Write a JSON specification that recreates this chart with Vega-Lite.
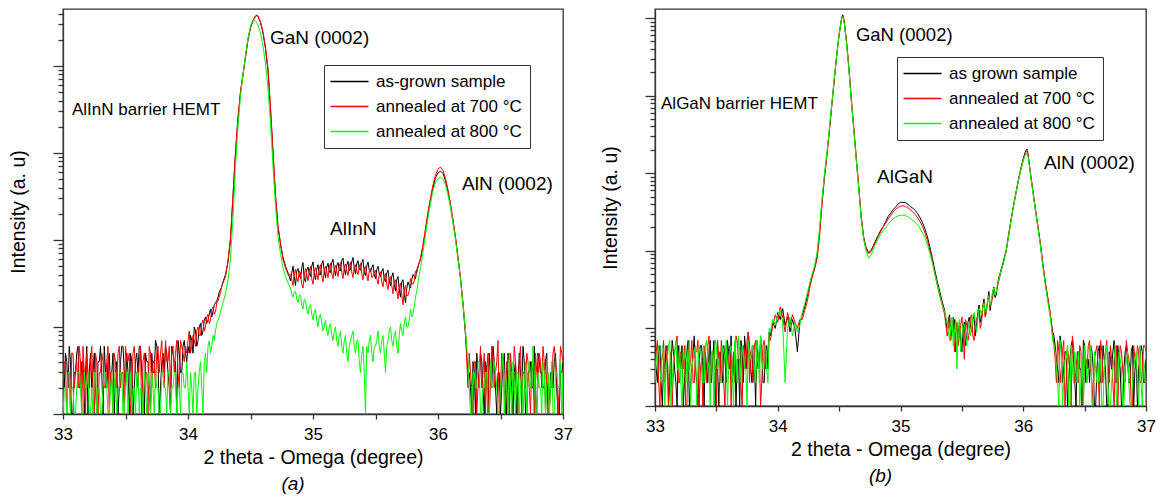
{
"$schema":"https://vega.github.io/schema/vega-lite/v6.json",
"background":"white",
"padding":{"left":7,"top":8,"right":2,"bottom":2},
"config":{"font":"Liberation Sans","view":{"stroke":"#333333","strokeWidth":1.3},
"axis":{"grid":false,"domainColor":"#333333","tickColor":"#333333","labelColor":"#000000","titleColor":"#000000","titleFontWeight":"normal","titleFontSize":19.5,"labelFontSize":17,"domainWidth":1.3,"tickWidth":1.3},
"legend":{"labelFontSize":17,"labelColor":"#000000"}},
"datasets":{
"a":[
{"x":33.00,"k":3,"r":2,"g":1},{"x":33.02,"k":5,"r":4,"g":2},{"x":33.04,"k":2,"r":3,"g":3},{"x":33.06,"k":4,"r":1,"g":1},{"x":33.08,"k":1,"r":5,"g":2},
{"x":33.10,"k":3,"r":3,"g":1},{"x":33.12,"k":6,"r":2,"g":3},{"x":33.14,"k":2,"r":4,"g":2},{"x":33.16,"k":4,"r":6,"g":1},{"x":33.18,"k":3,"r":1,"g":2},
{"x":33.20,"k":1,"r":3,"g":3},{"x":33.22,"k":5,"r":4,"g":1},{"x":33.24,"k":3,"r":2,"g":1},{"x":33.26,"k":2,"r":5,"g":3},{"x":33.28,"k":4,"r":1,"g":2},
{"x":33.30,"k":6,"r":3,"g":1},{"x":33.32,"k":1,"r":4,"g":2},{"x":33.34,"k":3,"r":2,"g":3},{"x":33.36,"k":4,"r":6,"g":1},{"x":33.38,"k":2,"r":3,"g":2},
{"x":33.40,"k":5,"r":1,"g":1},{"x":33.42,"k":3,"r":4,"g":3},{"x":33.44,"k":1,"r":5,"g":2},{"x":33.46,"k":4,"r":2,"g":3},{"x":33.48,"k":6,"r":3,"g":1},
{"x":33.50,"k":2,"r":6,"g":2},{"x":33.52,"k":3,"r":4,"g":1},{"x":33.54,"k":5,"r":1,"g":3},{"x":33.56,"k":1,"r":5,"g":2},{"x":33.58,"k":4,"r":3,"g":1},
{"x":33.60,"k":3,"r":2,"g":3},{"x":33.62,"k":6,"r":6,"g":2},{"x":33.64,"k":2,"r":4,"g":1},{"x":33.66,"k":5,"r":3,"g":2},{"x":33.68,"k":4,"r":1,"g":3},
{"x":33.70,"k":1,"r":5,"g":1},{"x":33.72,"k":3,"r":4,"g":2},{"x":33.74,"k":7,"r":2,"g":3},{"x":33.76,"k":4,"r":6,"g":2},{"x":33.78,"k":2,"r":5,"g":1},
{"x":33.80,"k":5,"r":3,"g":3},{"x":33.82,"k":6,"r":7,"g":2},{"x":33.84,"k":3,"r":4,"g":3},{"x":33.86,"k":1,"r":2,"g":1},{"x":33.88,"k":5,"r":6,"g":2},
{"x":33.90,"k":4,"r":5,"g":3},{"x":33.92,"k":7,"r":3,"g":2},{"x":33.94,"k":3,"r":7,"g":1},{"x":33.96,"k":6,"r":5,"g":3},{"x":33.98,"k":5,"r":6,"g":2},
{"x":34.00,"k":6,"r":7,"g":2},{"x":34.02,"k":8,"r":5,"g":3},{"x":34.04,"k":5,"r":8,"g":1},{"x":34.06,"k":9,"r":6,"g":3},{"x":34.08,"k":7,"r":10,"g":2},
{"x":34.10,"k":11,"r":8,"g":4},{"x":34.12,"k":9,"r":12,"g":1},{"x":34.14,"k":13,"r":10,"g":5},{"x":34.16,"k":12,"r":14,"g":6},{"x":34.18,"k":16,"r":12,"g":5},
{"x":34.20,"k":15,"r":17,"g":8},{"x":34.22,"k":19,"r":15,"g":9},{"x":34.24,"k":22,"r":20,"g":12},{"x":34.26,"k":27,"r":25,"g":15},{"x":34.28,"k":33,"r":32,"g":19},
{"x":34.30,"k":40,"r":38,"g":24},{"x":34.32,"k":56,"r":58,"g":35},{"x":34.34,"k":100,"r":105,"g":60},{"x":34.36,"k":316,"r":330,"g":180},{"x":34.38,"k":1000,"r":1050,"g":700},
{"x":34.40,"k":2500,"r":2600,"g":2000},{"x":34.42,"k":5000,"r":5100,"g":4500},{"x":34.44,"k":7900,"r":8100,"g":8000},{"x":34.46,"k":12600,"r":12900,"g":13500},{"x":34.48,"k":20000,"r":20500,"g":21000},
{"x":34.50,"k":27500,"r":28000,"g":29000},{"x":34.52,"k":33100,"r":33500,"g":33800},{"x":34.54,"k":37200,"r":37800,"g":33000},{"x":34.55,"k":38000,"r":38500,"g":31500},{"x":34.56,"k":37200,"r":37600,"g":29500},
{"x":34.58,"k":31600,"r":32000,"g":24000},{"x":34.60,"k":24000,"r":24500,"g":17000},{"x":34.62,"k":15800,"r":16200,"g":10500},{"x":34.64,"k":8900,"r":9200,"g":5500},{"x":34.66,"k":3160,"r":3300,"g":2200},
{"x":34.68,"k":1000,"r":1050,"g":700},{"x":34.70,"k":316,"r":330,"g":250},{"x":34.72,"k":141,"r":145,"g":110},{"x":34.74,"k":89,"r":92,"g":70},{"x":34.76,"k":63,"r":60,"g":48},
{"x":34.78,"k":50,"r":48,"g":38},{"x":34.80,"k":42,"r":40,"g":32},
{"x":34.82,"k":34,"r":40,"g":28},{"x":34.84,"k":50,"r":30,"g":22},{"x":34.86,"k":30,"r":46,"g":26},{"x":34.88,"k":47,"r":33,"g":19},{"x":34.90,"k":36,"r":42,"g":23},
{"x":34.92,"k":55,"r":28,"g":16},{"x":34.94,"k":33,"r":47,"g":20},{"x":34.96,"k":49,"r":34,"g":14},{"x":34.98,"k":38,"r":50,"g":18},{"x":35.00,"k":56,"r":31,"g":12},
{"x":35.02,"k":35,"r":48,"g":16},{"x":35.04,"k":52,"r":35,"g":10},{"x":35.06,"k":40,"r":52,"g":14},{"x":35.08,"k":58,"r":33,"g":9},{"x":35.10,"k":37,"r":50,"g":12},
{"x":35.12,"k":54,"r":37,"g":8},{"x":35.14,"k":42,"r":54,"g":11},{"x":35.16,"k":60,"r":36,"g":7},{"x":35.18,"k":39,"r":51,"g":10},{"x":35.20,"k":55,"r":38,"g":6},
{"x":35.22,"k":44,"r":55,"g":9},{"x":35.24,"k":62,"r":36,"g":5},{"x":35.26,"k":40,"r":53,"g":8},{"x":35.28,"k":57,"r":39,"g":4},{"x":35.30,"k":46,"r":56,"g":7},
{"x":35.32,"k":63,"r":37,"g":9},{"x":35.34,"k":41,"r":52,"g":5},{"x":35.36,"k":58,"r":40,"g":7},{"x":35.38,"k":45,"r":54,"g":3},{"x":35.40,"k":60,"r":35,"g":6},
{"x":35.42,"k":39,"r":50,"g":1},{"x":35.44,"k":56,"r":34,"g":5},{"x":35.46,"k":43,"r":47,"g":8},{"x":35.48,"k":52,"r":38,"g":4},{"x":35.50,"k":36,"r":45,"g":6},
{"x":35.52,"k":50,"r":31,"g":9},{"x":35.54,"k":38,"r":43,"g":5},{"x":35.56,"k":47,"r":29,"g":8},{"x":35.58,"k":33,"r":41,"g":3},{"x":35.60,"k":45,"r":27,"g":7},
{"x":35.62,"k":30,"r":38,"g":10},{"x":35.64,"k":42,"r":24,"g":6},{"x":35.66,"k":26,"r":35,"g":9},{"x":35.68,"k":38,"r":21,"g":5},{"x":35.70,"k":22,"r":32,"g":11},
{"x":35.72,"k":35,"r":18,"g":8},{"x":35.74,"k":19,"r":30,"g":13},{"x":35.76,"k":33,"r":23,"g":10},{"x":35.78,"k":28,"r":36,"g":16},{"x":35.80,"k":40,"r":31,"g":14},
{"x":35.82,"k":36,"r":44,"g":22},{"x":35.84,"k":50,"r":48,"g":32},
{"x":35.86,"k":60,"r":62,"g":48},{"x":35.88,"k":85,"r":88,"g":72},{"x":35.90,"k":130,"r":135,"g":115},{"x":35.92,"k":200,"r":210,"g":180},{"x":35.94,"k":290,"r":305,"g":265},
{"x":35.96,"k":400,"r":430,"g":370},{"x":35.98,"k":520,"r":560,"g":460},{"x":36.00,"k":590,"r":650,"g":510},{"x":36.02,"k":620,"r":690,"g":525},{"x":36.04,"k":580,"r":630,"g":500},
{"x":36.06,"k":480,"r":510,"g":430},{"x":36.08,"k":360,"r":375,"g":330},{"x":36.10,"k":250,"r":260,"g":235},{"x":36.12,"k":165,"r":170,"g":155},{"x":36.14,"k":105,"r":108,"g":100},
{"x":36.16,"k":62,"r":64,"g":60},{"x":36.18,"k":36,"r":37,"g":35},{"x":36.20,"k":18,"r":19,"g":18},{"x":36.22,"k":8,"r":9,"g":9},{"x":36.24,"k":3,"r":2,"g":4},
{"x":36.26,"k":2,"r":3,"g":1},{"x":36.28,"k":4,"r":1,"g":3},{"x":36.30,"k":1,"r":4,"g":2},{"x":36.32,"k":3,"r":2,"g":4},{"x":36.34,"k":5,"r":6,"g":1},
{"x":36.36,"k":2,"r":3,"g":2},{"x":36.38,"k":4,"r":1,"g":3},{"x":36.40,"k":1,"r":5,"g":1},{"x":36.42,"k":3,"r":2,"g":4},{"x":36.44,"k":6,"r":4,"g":2},
{"x":36.46,"k":2,"r":3,"g":3},{"x":36.48,"k":3,"r":7,"g":1},{"x":36.50,"k":1,"r":2,"g":2},{"x":36.52,"k":4,"r":4,"g":5},{"x":36.54,"k":2,"r":1,"g":3},
{"x":36.56,"k":5,"r":3,"g":1},{"x":36.58,"k":3,"r":5,"g":2},{"x":36.60,"k":1,"r":2,"g":4},{"x":36.62,"k":4,"r":4,"g":1},{"x":36.64,"k":2,"r":1,"g":3},
{"x":36.66,"k":3,"r":6,"g":2},{"x":36.68,"k":6,"r":3,"g":1},{"x":36.70,"k":1,"r":2,"g":4},{"x":36.72,"k":3,"r":4,"g":3},{"x":36.74,"k":4,"r":1,"g":2},
{"x":36.76,"k":2,"r":3,"g":6},{"x":36.78,"k":1,"r":5,"g":1},{"x":36.80,"k":5,"r":2,"g":3},{"x":36.82,"k":3,"r":4,"g":2},{"x":36.84,"k":2,"r":6,"g":4},
{"x":36.86,"k":4,"r":1,"g":1},{"x":36.88,"k":1,"r":3,"g":3},{"x":36.90,"k":3,"r":2,"g":2},{"x":36.92,"k":2,"r":5,"g":1},{"x":36.94,"k":5,"r":4,"g":3},
{"x":36.96,"k":1,"r":1,"g":2},{"x":36.98,"k":3,"r":6,"g":4},{"x":37.00,"k":4,"r":4,"g":3},
{"x":33.01,"k":2,"r":4,"g":2},{"x":33.03,"k":4,"r":1,"g":1},{"x":33.05,"k":6,"r":3,"g":3},{"x":33.07,"k":1,"r":5,"g":2},{"x":33.09,"k":3,"r":2,"g":1},
{"x":33.11,"k":5,"r":4,"g":2},{"x":33.13,"k":2,"r":6,"g":3},{"x":33.15,"k":4,"r":1,"g":1},{"x":33.17,"k":1,"r":3,"g":3},{"x":33.19,"k":6,"r":5,"g":2},
{"x":33.21,"k":3,"r":2,"g":1},{"x":33.23,"k":2,"r":6,"g":2},{"x":33.25,"k":5,"r":1,"g":3},{"x":33.27,"k":1,"r":4,"g":1},{"x":33.29,"k":4,"r":3,"g":2},
{"x":33.31,"k":3,"r":5,"g":1},{"x":33.33,"k":6,"r":2,"g":3},{"x":33.35,"k":2,"r":4,"g":2},{"x":33.37,"k":5,"r":1,"g":1},{"x":33.39,"k":3,"r":3,"g":3},
{"x":33.41,"k":1,"r":5,"g":2},{"x":33.43,"k":4,"r":2,"g":1},{"x":33.45,"k":2,"r":6,"g":2},{"x":33.47,"k":6,"r":3,"g":3},{"x":33.49,"k":3,"r":1,"g":1},
{"x":33.51,"k":5,"r":4,"g":3},{"x":33.53,"k":1,"r":5,"g":2},{"x":33.55,"k":4,"r":2,"g":1},{"x":33.57,"k":2,"r":6,"g":2},{"x":33.59,"k":5,"r":3,"g":3},
{"x":33.61,"k":6,"r":4,"g":1},{"x":33.63,"k":3,"r":1,"g":2},{"x":33.65,"k":1,"r":5,"g":3},{"x":33.67,"k":4,"r":3,"g":1},{"x":33.69,"k":2,"r":6,"g":2},
{"x":33.71,"k":5,"r":2,"g":3},{"x":33.73,"k":3,"r":4,"g":1},{"x":33.75,"k":6,"r":5,"g":2},{"x":33.77,"k":1,"r":3,"g":1},{"x":33.79,"k":4,"r":7,"g":3},
{"x":33.81,"k":3,"r":2,"g":2},{"x":33.83,"k":5,"r":4,"g":1},{"x":33.85,"k":2,"r":6,"g":3},{"x":33.87,"k":6,"r":5,"g":2},{"x":33.89,"k":4,"r":3,"g":3},
{"x":33.91,"k":1,"r":7,"g":1},{"x":33.93,"k":5,"r":2,"g":2},{"x":33.95,"k":3,"r":6,"g":3},{"x":33.97,"k":7,"r":4,"g":2},{"x":33.99,"k":4,"r":5,"g":4},
{"x":34.01,"k":5,"r":9,"g":1},{"x":34.03,"k":7,"r":6,"g":2},{"x":34.05,"k":10,"r":7,"g":3},{"x":34.07,"k":6,"r":9,"g":1},{"x":34.09,"k":10,"r":8,"g":3},
{"x":34.11,"k":8,"r":11,"g":2},{"x":34.13,"k":12,"r":9,"g":4},{"x":34.15,"k":11,"r":13,"g":3},{"x":34.17,"k":14,"r":11,"g":7},{"x":34.19,"k":13,"r":16,"g":6},
{"x":34.21,"k":18,"r":14,"g":7},{"x":34.23,"k":20,"r":19,"g":11},{"x":34.25,"k":25,"r":22,"g":13},{"x":34.27,"k":29,"r":30,"g":17},
{"x":34.83,"k":42,"r":35,"g":24},{"x":34.85,"k":38,"r":41,"g":25},{"x":34.87,"k":44,"r":37,"g":21},{"x":34.89,"k":40,"r":44,"g":23},{"x":34.91,"k":48,"r":31,"g":18},
{"x":34.93,"k":36,"r":39,"g":21},{"x":34.95,"k":45,"r":40,"g":16},{"x":34.97,"k":41,"r":44,"g":17},{"x":34.99,"k":50,"r":36,"g":14},{"x":35.01,"k":42,"r":43,"g":15},
{"x":35.03,"k":46,"r":41,"g":12},{"x":35.05,"k":40,"r":47,"g":13},{"x":35.07,"k":53,"r":39,"g":11},{"x":35.09,"k":44,"r":45,"g":10},{"x":35.11,"k":49,"r":43,"g":9},
{"x":35.13,"k":43,"r":48,"g":10},{"x":35.15,"k":55,"r":41,"g":8},{"x":35.17,"k":46,"r":47,"g":9},{"x":35.19,"k":51,"r":44,"g":7},{"x":35.21,"k":45,"r":50,"g":8},
{"x":35.23,"k":58,"r":42,"g":6},{"x":35.25,"k":47,"r":49,"g":7},{"x":35.27,"k":52,"r":45,"g":5},{"x":35.29,"k":44,"r":50,"g":6},{"x":35.31,"k":56,"r":43,"g":8},
{"x":35.33,"k":48,"r":48,"g":6},{"x":35.35,"k":53,"r":44,"g":7},{"x":35.37,"k":46,"r":49,"g":4},{"x":35.39,"k":55,"r":41,"g":5},{"x":35.41,"k":42,"r":46,"g":3},
{"x":35.43,"k":50,"r":40,"g":6},{"x":35.45,"k":45,"r":44,"g":7},{"x":35.47,"k":48,"r":37,"g":5},{"x":35.49,"k":40,"r":43,"g":6},{"x":35.51,"k":46,"r":36,"g":7},
{"x":35.53,"k":41,"r":40,"g":6},{"x":35.55,"k":44,"r":33,"g":7},{"x":35.57,"k":36,"r":38,"g":5},{"x":35.59,"k":42,"r":31,"g":6},{"x":35.61,"k":34,"r":36,"g":9},
{"x":35.63,"k":38,"r":30,"g":7},{"x":35.65,"k":31,"r":33,"g":8},{"x":35.67,"k":35,"r":26,"g":6},{"x":35.69,"k":27,"r":29,"g":8},{"x":35.71,"k":33,"r":24,"g":9},
{"x":35.73,"k":24,"r":26,"g":11},{"x":35.75,"k":28,"r":23,"g":10},{"x":35.77,"k":30,"r":26,"g":12},{"x":35.79,"k":35,"r":32,"g":13},{"x":35.81,"k":38,"r":34,"g":17},
{"x":35.83,"k":45,"r":42,"g":26},{"x":35.85,"k":55,"r":55,"g":40},
{"x":36.25,"k":3,"r":5,"g":2},{"x":36.27,"k":1,"r":2,"g":1},{"x":36.29,"k":3,"r":4,"g":3},{"x":36.31,"k":5,"r":1,"g":2},{"x":36.33,"k":2,"r":3,"g":4},
{"x":36.35,"k":4,"r":2,"g":1},{"x":36.37,"k":1,"r":5,"g":2},{"x":36.39,"k":3,"r":3,"g":3},{"x":36.41,"k":5,"r":1,"g":1},{"x":36.43,"k":2,"r":6,"g":2},
{"x":36.45,"k":4,"r":2,"g":4},{"x":36.47,"k":1,"r":4,"g":2},{"x":36.49,"k":3,"r":1,"g":1},{"x":36.51,"k":2,"r":5,"g":3},{"x":36.53,"k":5,"r":2,"g":1},
{"x":36.55,"k":1,"r":4,"g":2},{"x":36.57,"k":4,"r":1,"g":5},{"x":36.59,"k":2,"r":3,"g":1},{"x":36.61,"k":3,"r":6,"g":2},{"x":36.63,"k":1,"r":2,"g":3},
{"x":36.65,"k":5,"r":4,"g":1},{"x":36.67,"k":2,"r":1,"g":3},{"x":36.69,"k":4,"r":3,"g":2},{"x":36.71,"k":1,"r":5,"g":1},{"x":36.73,"k":3,"r":2,"g":4},
{"x":36.75,"k":2,"r":4,"g":2},{"x":36.77,"k":6,"r":1,"g":3},{"x":36.79,"k":1,"r":3,"g":1},{"x":36.81,"k":4,"r":5,"g":2},{"x":36.83,"k":3,"r":2,"g":1},
{"x":36.85,"k":2,"r":4,"g":3},{"x":36.87,"k":5,"r":3,"g":2},{"x":36.89,"k":1,"r":1,"g":1},{"x":36.91,"k":3,"r":2,"g":4},{"x":36.93,"k":4,"r":6,"g":1},
{"x":36.95,"k":2,"r":3,"g":3},{"x":36.97,"k":1,"r":2,"g":2},{"x":36.99,"k":3,"r":5,"g":1}
],
"b":[
{"x":33.00,"k":4,"r":3,"g":2},{"x":33.02,"k":2,"r":7,"g":5},{"x":33.04,"k":6,"r":1,"g":3},{"x":33.06,"k":1,"r":4,"g":6},{"x":33.08,"k":3,"r":2,"g":1},
{"x":33.10,"k":5,"r":6,"g":4},{"x":33.12,"k":2,"r":3,"g":7},{"x":33.14,"k":7,"r":1,"g":2},{"x":33.16,"k":3,"r":5,"g":5},{"x":33.18,"k":1,"r":8,"g":3},
{"x":33.20,"k":4,"r":2,"g":6},{"x":33.22,"k":6,"r":4,"g":1},{"x":33.24,"k":2,"r":6,"g":4},{"x":33.26,"k":5,"r":1,"g":2},{"x":33.28,"k":1,"r":3,"g":7},
{"x":33.30,"k":3,"r":7,"g":3},{"x":33.32,"k":8,"r":2,"g":5},{"x":33.34,"k":2,"r":5,"g":1},{"x":33.36,"k":4,"r":1,"g":6},{"x":33.38,"k":6,"r":4,"g":4},
{"x":33.40,"k":1,"r":6,"g":2},{"x":33.42,"k":3,"r":2,"g":7},{"x":33.44,"k":5,"r":8,"g":3},{"x":33.46,"k":2,"r":3,"g":5},{"x":33.48,"k":7,"r":5,"g":1},
{"x":33.50,"k":4,"r":1,"g":6},{"x":33.52,"k":1,"r":4,"g":4},{"x":33.54,"k":3,"r":7,"g":2},{"x":33.56,"k":6,"r":2,"g":5},{"x":33.58,"k":2,"r":6,"g":7},
{"x":33.60,"k":5,"r":3,"g":3},{"x":33.62,"k":8,"r":1,"g":6},{"x":33.64,"k":3,"r":5,"g":1},{"x":33.66,"k":1,"r":8,"g":4},{"x":33.68,"k":4,"r":4,"g":8},
{"x":33.70,"k":7,"r":2,"g":2},{"x":33.72,"k":2,"r":6,"g":5},{"x":33.74,"k":5,"r":3,"g":3},{"x":33.76,"k":9,"r":9,"g":7},{"x":33.78,"k":3,"r":5,"g":4},
{"x":33.80,"k":6,"r":2,"g":6},{"x":33.82,"k":1,"r":7,"g":2},{"x":33.84,"k":4,"r":4,"g":5},{"x":33.86,"k":8,"r":1,"g":8},{"x":33.88,"k":2,"r":6,"g":3},
{"x":33.90,"k":5,"r":3,"g":6},{"x":33.92,"k":3,"r":5,"g":2},
{"x":33.94,"k":8,"r":7,"g":9},{"x":33.96,"k":12,"r":11,"g":13},{"x":33.98,"k":10,"r":15,"g":11},{"x":34.00,"k":16,"r":12,"g":15},{"x":34.02,"k":13,"r":19,"g":17},
{"x":34.04,"k":18,"r":14,"g":12},{"x":34.06,"k":11,"r":9,"g":2},{"x":34.08,"k":14,"r":16,"g":10},{"x":34.10,"k":9,"r":11,"g":14},{"x":34.12,"k":13,"r":15,"g":8},
{"x":34.14,"k":10,"r":12,"g":12},{"x":34.16,"k":5,"r":10,"g":9},{"x":34.18,"k":12,"r":13,"g":11},
{"x":34.20,"k":15,"r":13,"g":16},{"x":34.22,"k":19,"r":17,"g":21},{"x":34.24,"k":26,"r":22,"g":28},{"x":34.26,"k":36,"r":33,"g":38},{"x":34.28,"k":48,"r":45,"g":50},
{"x":34.30,"k":60,"r":58,"g":64},{"x":34.32,"k":85,"r":78,"g":95},{"x":34.34,"k":170,"r":150,"g":190},{"x":34.36,"k":420,"r":380,"g":460},{"x":34.38,"k":900,"r":850,"g":960},
{"x":34.40,"k":1700,"r":1650,"g":1800},{"x":34.42,"k":3500,"r":3400,"g":3700},{"x":34.44,"k":7500,"r":7300,"g":7800},{"x":34.46,"k":16000,"r":15500,"g":16500},{"x":34.48,"k":33000,"r":32000,"g":33000},
{"x":34.50,"k":62000,"r":60000,"g":61000},{"x":34.52,"k":100000,"r":97000,"g":97000},{"x":34.53,"k":110000,"r":106000,"g":104000},{"x":34.54,"k":95000,"r":93000,"g":90000},{"x":34.56,"k":50000,"r":50000,"g":47000},
{"x":34.58,"k":22000,"r":23000,"g":21000},{"x":34.60,"k":8500,"r":9000,"g":8200},{"x":34.62,"k":3600,"r":3800,"g":3500},{"x":34.64,"k":1500,"r":1600,"g":1450},{"x":34.66,"k":650,"r":680,"g":620},
{"x":34.68,"k":270,"r":280,"g":255},{"x":34.70,"k":150,"r":145,"g":140},{"x":34.72,"k":110,"r":105,"g":100},{"x":34.74,"k":95,"r":92,"g":80},{"x":34.76,"k":100,"r":98,"g":88},
{"x":34.78,"k":118,"r":115,"g":105},
{"x":34.80,"k":138,"r":132,"g":125},{"x":34.82,"k":160,"r":156,"g":145},{"x":34.84,"k":185,"r":178,"g":163},{"x":34.86,"k":205,"r":205,"g":182},{"x":34.88,"k":240,"r":228,"g":200},
{"x":34.90,"k":278,"r":258,"g":220},{"x":34.92,"k":305,"r":285,"g":240},{"x":34.94,"k":340,"r":315,"g":258},{"x":34.96,"k":365,"r":342,"g":272},{"x":34.98,"k":400,"r":362,"g":282},
{"x":35.00,"k":422,"r":375,"g":287},{"x":35.02,"k":420,"r":380,"g":288},{"x":35.04,"k":418,"r":372,"g":284},{"x":35.06,"k":398,"r":358,"g":275},{"x":35.08,"k":372,"r":338,"g":262},
{"x":35.10,"k":355,"r":318,"g":248},{"x":35.12,"k":330,"r":292,"g":232},{"x":35.14,"k":300,"r":266,"g":214},{"x":35.16,"k":265,"r":236,"g":192},{"x":35.18,"k":230,"r":205,"g":170},
{"x":35.20,"k":190,"r":170,"g":145},{"x":35.22,"k":150,"r":135,"g":118},{"x":35.24,"k":110,"r":100,"g":92},{"x":35.26,"k":80,"r":72,"g":70},{"x":35.28,"k":56,"r":50,"g":50},
{"x":35.30,"k":40,"r":36,"g":36},{"x":35.32,"k":30,"r":26,"g":27},{"x":35.34,"k":22,"r":20,"g":20},
{"x":35.36,"k":17,"r":15,"g":16},{"x":35.38,"k":10,"r":8,"g":12},{"x":35.40,"k":15,"r":13,"g":7},{"x":35.42,"k":9,"r":11,"g":14},{"x":35.44,"k":13,"r":5,"g":9},
{"x":35.46,"k":6,"r":12,"g":3},{"x":35.48,"k":11,"r":8,"g":13},{"x":35.50,"k":5,"r":14,"g":8},{"x":35.52,"k":12,"r":4,"g":11},{"x":35.54,"k":8,"r":11,"g":6},
{"x":35.56,"k":14,"r":9,"g":12},{"x":35.58,"k":9,"r":15,"g":10},{"x":35.60,"k":15,"r":7,"g":16},{"x":35.62,"k":11,"r":13,"g":9},{"x":35.64,"k":20,"r":17,"g":18},
{"x":35.66,"k":14,"r":12,"g":15},{"x":35.68,"k":24,"r":22,"g":21},{"x":35.70,"k":18,"r":16,"g":17},{"x":35.72,"k":30,"r":27,"g":26},{"x":35.74,"k":22,"r":21,"g":23},
{"x":35.76,"k":34,"r":32,"g":33},{"x":35.78,"k":27,"r":30,"g":29},{"x":35.80,"k":45,"r":40,"g":42},{"x":35.82,"k":58,"r":55,"g":56},{"x":35.84,"k":75,"r":72,"g":70},
{"x":35.86,"k":100,"r":95,"g":98},{"x":35.88,"k":160,"r":150,"g":155},{"x":35.90,"k":250,"r":240,"g":245},{"x":35.92,"k":380,"r":365,"g":370},{"x":35.94,"k":560,"r":540,"g":545},
{"x":35.96,"k":820,"r":790,"g":790},{"x":35.98,"k":1150,"r":1100,"g":1090},{"x":36.00,"k":1550,"r":1480,"g":1450},{"x":36.02,"k":1950,"r":1850,"g":1780},{"x":36.03,"k":2050,"r":1920,"g":1750},
{"x":36.04,"k":1700,"r":1720,"g":1600},{"x":36.06,"k":950,"r":980,"g":930},{"x":36.08,"k":560,"r":580,"g":545},{"x":36.10,"k":330,"r":345,"g":320},{"x":36.12,"k":200,"r":210,"g":195},
{"x":36.14,"k":120,"r":125,"g":115},{"x":36.16,"k":65,"r":70,"g":62},{"x":36.18,"k":38,"r":40,"g":36},{"x":36.20,"k":24,"r":25,"g":22},{"x":36.22,"k":15,"r":16,"g":14},
{"x":36.24,"k":9,"r":8,"g":7},
{"x":36.26,"k":6,"r":4,"g":5},{"x":36.28,"k":3,"r":7,"g":2},{"x":36.30,"k":8,"r":2,"g":7},{"x":36.32,"k":2,"r":5,"g":1},{"x":36.34,"k":5,"r":1,"g":4},
{"x":36.36,"k":1,"r":6,"g":6},{"x":36.38,"k":4,"r":3,"g":1},{"x":36.40,"k":7,"r":8,"g":3},{"x":36.42,"k":2,"r":2,"g":5},{"x":36.44,"k":5,"r":4,"g":2},
{"x":36.46,"k":3,"r":6,"g":1},{"x":36.48,"k":1,"r":1,"g":4},{"x":36.50,"k":6,"r":5,"g":6},{"x":36.52,"k":4,"r":3,"g":2},{"x":36.54,"k":2,"r":7,"g":3},
{"x":36.56,"k":5,"r":2,"g":1},{"x":36.58,"k":1,"r":4,"g":5},{"x":36.60,"k":3,"r":6,"g":2},{"x":36.62,"k":6,"r":1,"g":4},{"x":36.64,"k":2,"r":5,"g":1},
{"x":36.66,"k":4,"r":3,"g":3},{"x":36.68,"k":1,"r":7,"g":6},{"x":36.70,"k":5,"r":2,"g":1},{"x":36.72,"k":3,"r":4,"g":2},{"x":36.74,"k":7,"r":1,"g":4},
{"x":36.76,"k":2,"r":6,"g":1},{"x":36.78,"k":4,"r":3,"g":5},{"x":36.80,"k":1,"r":5,"g":3},{"x":36.82,"k":3,"r":2,"g":1},{"x":36.84,"k":6,"r":7,"g":4},
{"x":36.86,"k":2,"r":4,"g":2},{"x":36.88,"k":5,"r":1,"g":1},{"x":36.90,"k":1,"r":6,"g":3},{"x":36.92,"k":4,"r":3,"g":5},{"x":36.94,"k":3,"r":5,"g":1},
{"x":36.96,"k":6,"r":2,"g":2},{"x":36.98,"k":2,"r":6,"g":4},{"x":37.00,"k":4,"r":5,"g":1},
{"x":33.01,"k":3,"r":5,"g":4},{"x":33.03,"k":5,"r":2,"g":6},{"x":33.05,"k":2,"r":4,"g":2},{"x":33.07,"k":4,"r":7,"g":5},{"x":33.09,"k":6,"r":3,"g":3},
{"x":33.11,"k":1,"r":1,"g":6},{"x":33.13,"k":3,"r":5,"g":1},{"x":33.15,"k":5,"r":3,"g":4},{"x":33.17,"k":2,"r":6,"g":7},{"x":33.19,"k":6,"r":2,"g":3},
{"x":33.21,"k":3,"r":5,"g":2},{"x":33.23,"k":1,"r":3,"g":5},{"x":33.25,"k":4,"r":1,"g":6},{"x":33.27,"k":7,"r":6,"g":3},{"x":33.29,"k":2,"r":4,"g":1},
{"x":33.31,"k":5,"r":2,"g":4},{"x":33.33,"k":3,"r":5,"g":6},{"x":33.35,"k":1,"r":7,"g":3},{"x":33.37,"k":6,"r":3,"g":5},{"x":33.39,"k":3,"r":1,"g":2},
{"x":33.41,"k":5,"r":4,"g":6},{"x":33.43,"k":2,"r":6,"g":4},{"x":33.45,"k":7,"r":2,"g":1},{"x":33.47,"k":4,"r":5,"g":5},{"x":33.49,"k":1,"r":3,"g":7},
{"x":33.51,"k":3,"r":7,"g":3},{"x":33.53,"k":5,"r":2,"g":2},{"x":33.55,"k":2,"r":4,"g":6},{"x":33.57,"k":4,"r":1,"g":4},{"x":33.59,"k":7,"r":5,"g":1},
{"x":33.61,"k":3,"r":6,"g":5},{"x":33.63,"k":2,"r":3,"g":3},{"x":33.65,"k":6,"r":2,"g":7},{"x":33.67,"k":4,"r":7,"g":2},{"x":33.69,"k":1,"r":4,"g":5},
{"x":33.71,"k":5,"r":1,"g":6},{"x":33.73,"k":8,"r":5,"g":3},{"x":33.75,"k":3,"r":7,"g":1},{"x":33.77,"k":6,"r":2,"g":5},{"x":33.79,"k":2,"r":4,"g":6},
{"x":33.81,"k":4,"r":6,"g":3},{"x":33.83,"k":7,"r":3,"g":7},{"x":33.85,"k":3,"r":5,"g":2},{"x":33.87,"k":5,"r":2,"g":4},{"x":33.89,"k":2,"r":7,"g":6},
{"x":33.91,"k":6,"r":4,"g":3},{"x":33.93,"k":9,"r":8,"g":10},
{"x":35.37,"k":12,"r":11,"g":14},{"x":35.39,"k":13,"r":10,"g":9},{"x":35.41,"k":8,"r":7,"g":11},{"x":35.43,"k":11,"r":14,"g":6},{"x":35.45,"k":5,"r":8,"g":13},
{"x":35.47,"k":9,"r":6,"g":10},{"x":35.49,"k":7,"r":11,"g":5},{"x":35.51,"k":10,"r":9,"g":12},{"x":35.53,"k":6,"r":13,"g":9},{"x":35.55,"k":12,"r":7,"g":10},
{"x":35.57,"k":11,"r":14,"g":8},{"x":35.59,"k":13,"r":8,"g":14},{"x":35.61,"k":8,"r":12,"g":12},{"x":35.63,"k":16,"r":15,"g":13},{"x":35.65,"k":12,"r":10,"g":17},
{"x":35.67,"k":19,"r":18,"g":19},{"x":35.69,"k":15,"r":14,"g":16},{"x":35.71,"k":22,"r":23,"g":24},{"x":35.73,"k":17,"r":19,"g":20},{"x":35.75,"k":28,"r":25,"g":30},
{"x":35.77,"k":25,"r":28,"g":27},{"x":35.79,"k":36,"r":35,"g":38},{"x":35.81,"k":50,"r":47,"g":49},{"x":35.83,"k":65,"r":62,"g":63},{"x":35.85,"k":88,"r":85,"g":84},
{"x":36.25,"k":8,"r":6,"g":6},{"x":36.27,"k":4,"r":2,"g":3},{"x":36.29,"k":2,"r":5,"g":1},{"x":36.31,"k":6,"r":3,"g":5},{"x":36.33,"k":3,"r":7,"g":2},
{"x":36.35,"k":5,"r":2,"g":4},{"x":36.37,"k":2,"r":4,"g":1},{"x":36.39,"k":6,"r":1,"g":6},{"x":36.41,"k":4,"r":6,"g":2},{"x":36.43,"k":1,"r":3,"g":3},
{"x":36.45,"k":5,"r":2,"g":5},{"x":36.47,"k":3,"r":5,"g":2},{"x":36.49,"k":7,"r":1,"g":1},{"x":36.51,"k":2,"r":4,"g":4},{"x":36.53,"k":4,"r":6,"g":3},
{"x":36.55,"k":6,"r":3,"g":6},{"x":36.57,"k":3,"r":1,"g":1},{"x":36.59,"k":1,"r":5,"g":3},{"x":36.61,"k":5,"r":3,"g":2},{"x":36.63,"k":2,"r":7,"g":4},
{"x":36.65,"k":6,"r":2,"g":1},{"x":36.67,"k":3,"r":5,"g":5},{"x":36.69,"k":1,"r":3,"g":2},{"x":36.71,"k":4,"r":6,"g":1},{"x":36.73,"k":5,"r":2,"g":3},
{"x":36.75,"k":2,"r":4,"g":6},{"x":36.77,"k":6,"r":1,"g":2},{"x":36.79,"k":3,"r":6,"g":4},{"x":36.81,"k":1,"r":3,"g":1},{"x":36.83,"k":5,"r":2,"g":3},
{"x":36.85,"k":4,"r":5,"g":5},{"x":36.87,"k":2,"r":3,"g":1},{"x":36.89,"k":6,"r":1,"g":2},{"x":36.91,"k":3,"r":4,"g":4},{"x":36.93,"k":1,"r":6,"g":2},
{"x":36.95,"k":4,"r":2,"g":6},{"x":36.97,"k":5,"r":3,"g":1},{"x":36.99,"k":2,"r":6,"g":3}
]},
"spacing":25,
"resolve":{"scale":{"color":"independent","x":"independent","y":"independent"},"legend":{"color":"independent"}},
"hconcat":[
{"width":500,"height":405,
"title":{"text":"(a)","orient":"bottom","anchor":"middle","fontStyle":"italic","fontWeight":"normal","fontSize":19,"dx":-20,"offset":8},
"layer":[
{"data":{"name":"a"},"transform":[{"fold":["k","r","g"],"as":["s","I"]}],
"mark":{"type":"line","strokeWidth":1,"clip":true},
"encoding":{
"x":{"field":"x","type":"quantitative","scale":{"domain":[33,37],"nice":false,"zero":false},
"axis":{"title":"2 theta - Omega (degree)","values":[33,33.5,34,34.5,35,35.5,36,36.5,37],"labelExpr":"datum.value % 1 == 0 ? format(datum.value,'d') : ''","labelFlush":false,"tickSize":5,"labelPadding":7,"titlePadding":6}},
"y":{"field":"I","type":"quantitative","scale":{"type":"log","domain":[1,45200],"nice":false},
"axis":{"title":"Intensity (a. u)","labels":false,"titlePadding":24,
"values":[1,2,3,4,5,6,7,8,9,10,20,30,40,50,60,70,80,90,100,200,300,400,500,600,700,800,900,1000,2000,3000,4000,5000,6000,7000,8000,9000,10000,20000,30000,40000],
"tickSize":{"condition":{"test":"abs(log(datum.value)/LN10 - round(log(datum.value)/LN10)) < 0.0001","value":10},"value":5}}},
"color":{"field":"s","type":"nominal","scale":{"domain":["k","r","g"],"range":["#000000","#ff0000","#00ff00"]},
"legend":{"title":null,"orient":"none","legendX":261,"legendY":56,"labelExpr":"datum.label == 'k' ? 'as-grown sample' : datum.label == 'r' ? 'annealed at 700 °C' : 'annealed at 800 °C'",
"symbolType":"M-2,0H5.6","symbolSize":100,"symbolStrokeWidth":1.3,"labelOffset":27,"padding":8,"rowPadding":7,"strokeColor":"#333333","fillColor":"white","labelFontSize":17}}}},
{"data":{"values":[{}]},"mark":{"type":"text","align":"left","baseline":"middle","fontSize":19},"encoding":{"x":{"datum":34.656},"y":{"datum":20900},"text":{"value":"GaN (0002)"}}},
{"data":{"values":[{}]},"mark":{"type":"text","align":"left","baseline":"middle","fontSize":17},"encoding":{"x":{"datum":33.072},"y":{"datum":3120},"text":{"value":"AlInN barrier HEMT"}}},
{"data":{"values":[{}]},"mark":{"type":"text","align":"left","baseline":"middle","fontSize":19},"encoding":{"x":{"datum":35.136},"y":{"datum":134},"text":{"value":"AlInN"}}},
{"data":{"values":[{}]},"mark":{"type":"text","align":"left","baseline":"middle","fontSize":19},"encoding":{"x":{"datum":36.192},"y":{"datum":440},"text":{"value":"AlN (0002)"}}}
]},
{"width":491,"height":397,
"title":{"text":"(b)","orient":"bottom","anchor":"middle","fontStyle":"italic","fontWeight":"normal","fontSize":19,"dx":-20,"offset":8},
"layer":[
{"data":{"name":"b"},"transform":[{"fold":["k","r","g"],"as":["s","I"]}],
"mark":{"type":"line","strokeWidth":1,"clip":true},
"encoding":{
"x":{"field":"x","type":"quantitative","scale":{"domain":[33,37],"nice":false,"zero":false},
"axis":{"title":"2 theta - Omega (degree)","values":[33,33.5,34,34.5,35,35.5,36,36.5,37],"labelExpr":"datum.value % 1 == 0 ? format(datum.value,'d') : ''","labelFlush":false,"tickSize":5,"labelPadding":7,"titlePadding":6}},
"y":{"field":"I","type":"quantitative","scale":{"type":"log","domain":[1,130600],"nice":false},
"axis":{"title":"Intensity (a. u)","labels":false,"titlePadding":24,
"values":[1,2,3,4,5,6,7,8,9,10,20,30,40,50,60,70,80,90,100,200,300,400,500,600,700,800,900,1000,2000,3000,4000,5000,6000,7000,8000,9000,10000,20000,30000,40000,50000,60000,70000,80000,90000,100000],
"tickSize":{"condition":{"test":"abs(log(datum.value)/LN10 - round(log(datum.value)/LN10)) < 0.0001","value":10},"value":5}}},
"color":{"field":"s","type":"nominal","scale":{"domain":["k","r","g"],"range":["#000000","#ff0000","#00ff00"]},
"legend":{"title":null,"orient":"none","legendX":242,"legendY":48,"labelExpr":"datum.label == 'k' ? 'as grown sample' : datum.label == 'r' ? 'annealed at 700 °C' : 'annealed at 800 °C'",
"symbolType":"M-2,0H5.6","symbolSize":100,"symbolStrokeWidth":1.3,"labelOffset":27,"padding":8,"rowPadding":7,"strokeColor":"#333333","fillColor":"white","labelFontSize":17}}}},
{"data":{"values":[{}]},"mark":{"type":"text","align":"left","baseline":"middle","fontSize":18.5},"encoding":{"x":{"datum":34.637},"y":{"datum":60300},"text":{"value":"GaN (0002)"}}},
{"data":{"values":[{}]},"mark":{"type":"text","align":"left","baseline":"middle","fontSize":17},"encoding":{"x":{"datum":33.049},"y":{"datum":7800},"text":{"value":"AlGaN barrier HEMT"}}},
{"data":{"values":[{}]},"mark":{"type":"text","align":"left","baseline":"middle","fontSize":19},"encoding":{"x":{"datum":34.809},"y":{"datum":895},"text":{"value":"AlGaN"}}},
{"data":{"values":[{}]},"mark":{"type":"text","align":"left","baseline":"middle","fontSize":19},"encoding":{"x":{"datum":36.169},"y":{"datum":1350},"text":{"value":"AlN (0002)"}}}
]}
]}
